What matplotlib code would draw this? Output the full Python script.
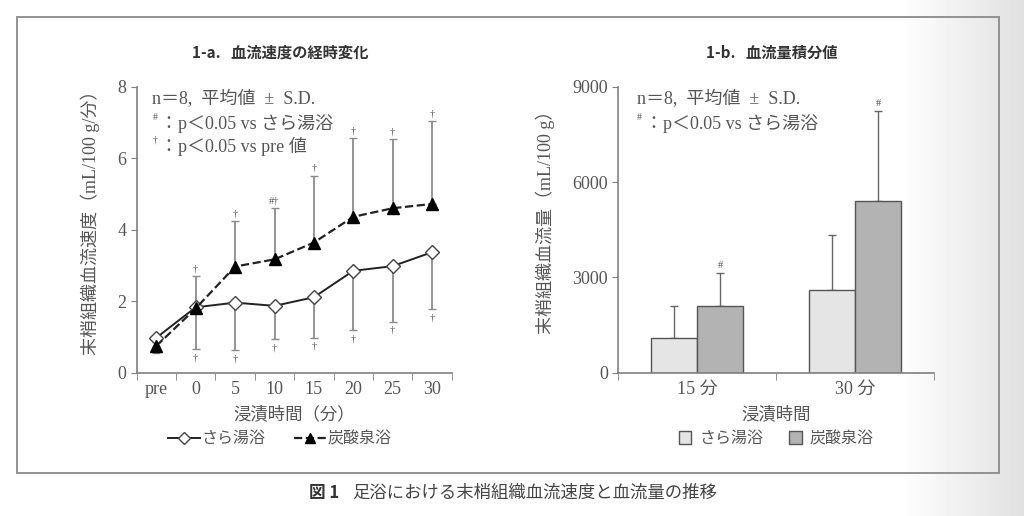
import numpy as np
import matplotlib
matplotlib.use("Agg")
import matplotlib.pyplot as plt
from matplotlib.lines import Line2D
from matplotlib.patches import Patch, Rectangle

# データ
times = ["pre", "0", "5", "10", "15", "20", "25", "30"]
sara_mean = [0.98, 1.83, 1.96, 1.87, 2.11, 2.85, 2.98, 3.37]
sara_sd = [0.44, 1.17, 1.33, 0.94, 1.13, 1.66, 1.55, 1.60]
tansan_mean = [0.75, 1.80, 2.97, 3.17, 3.64, 4.36, 4.60, 4.72]
tansan_sd = [0.10, 0.90, 1.27, 1.43, 1.87, 2.20, 1.93, 2.32]
sara_marks = ["", "†", "†", "†", "†", "†", "†", "†"]
tansan_marks = ["", "†", "†", "#†", "†", "†", "†", "†"]

groups = ["15 分", "30 分"]
sara_sum = [1090, 2615]
sara_sum_sd = [1000, 1720]
tansan_sum = [2090, 5390]
tansan_sum_sd = [1050, 2855]
tansan_sum_marks = ["#", "#"]

SERIF = ["Liberation Serif", "Noto Sans CJK JP"]
SANS = ["Noto Sans CJK JP", "DejaVu Sans"]
plt.rcParams["font.family"] = SERIF
GRAY = "#555555"
SPINE = "#808080"
FS = 13
LFS = 11.5

fig = plt.figure(figsize=(10.24, 5.16), dpi=100)

# 背景のグラデーション
bg = fig.add_axes([0, 0, 1, 1], zorder=-10)
xs = np.arange(1024)
col = np.where(xs < 900, 1.0, 1.0 - (xs - 900) / 124 * 0.12)
bg.imshow(np.tile(col, (10, 1)), cmap="gray", vmin=0, vmax=1, aspect="auto",
          extent=[0, 1, 0, 1])
bg.axis("off")
fig.patches.append(Rectangle((17 / 1024, 1 - 473 / 516), 982 / 1024, 456 / 516,
                             transform=fig.transFigure, fill=False,
                             edgecolor="#8a8a8a", lw=1.3))


def style_axes(ax):
    for s in ["top", "right"]:
        ax.spines[s].set_visible(False)
    for s in ["left", "bottom"]:
        ax.spines[s].set_color(SPINE)
        ax.spines[s].set_linewidth(1.2)
    ax.tick_params(colors=SPINE, labelcolor=GRAY, labelsize=FS, direction="out",
                   length=4)
    ax.set_facecolor("none")


# ---- 1-a ----
ax1 = fig.add_axes([0.1335, 0.2777, 0.3076, 0.5543])
style_axes(ax1)
x = np.arange(len(times))
ax1.errorbar(x, sara_mean, yerr=[sara_sd, [0] * len(x)], fmt="none",
             ecolor="#8c8c8c", elinewidth=1.3, capsize=3, zorder=1)
ax1.errorbar(x, tansan_mean, yerr=[[0] * len(x), tansan_sd], fmt="none",
             ecolor="#8c8c8c", elinewidth=1.3, capsize=3, zorder=1)
ax1.plot(x, sara_mean, "-", color="#222222", lw=1.4, marker="D", ms=7,
         mfc="white", mec="#444444", mew=1, zorder=3)
ax1.plot(x, tansan_mean, "--", color="#222222", lw=1.6, marker="^", ms=8,
         mfc="black", mec="black", zorder=4)
for i in x:
    if tansan_marks[i]:
        ax1.annotate(tansan_marks[i], (i, tansan_mean[i] + tansan_sd[i]),
                     xytext=(0, 2), textcoords="offset points", ha="center",
                     va="bottom", fontsize=7.5, color=GRAY)
    if sara_marks[i]:
        ax1.annotate(sara_marks[i], (i, sara_mean[i] - sara_sd[i]),
                     xytext=(0, -3), textcoords="offset points", ha="center",
                     va="top", fontsize=7.5, color=GRAY)
ax1.set_xlim(-0.5, len(times) - 0.5)
ax1.set_ylim(0, 8)
ax1.set_yticks([0, 2, 4, 6, 8])
ax1.set_xticks(x)
ax1.set_xticklabels(times)
ax1.tick_params(axis="x", length=0, pad=6)
ax1.set_xticks(np.arange(-0.5, len(times)), minor=True)
ax1.tick_params(axis="x", which="minor", length=5, color=SPINE, direction="out")
ax1.set_ylabel("末梢組織血流速度（mL/100 g/分）", family=SERIF, fontsize=13,
               color=GRAY)
ax1.yaxis.set_label_coords(-0.115, 0.54)
ax1.set_xlabel("浸漬時間（分）", family=SERIF, fontsize=12.5, color=GRAY, labelpad=6)
ax1.text(0.05, 0.955, "n＝8,  平均値  ±  S.D.", transform=ax1.transAxes,
         fontsize=FS, color=GRAY, va="center")
ax1.text(0.05, 0.878, "#", transform=ax1.transAxes, fontsize=7, color=GRAY,
         va="bottom")
ax1.text(0.075, 0.87, "：p＜0.05 vs さら湯浴", transform=ax1.transAxes,
         fontsize=FS, color=GRAY, va="center")
ax1.text(0.05, 0.798, "†", transform=ax1.transAxes, fontsize=7, color=GRAY,
         va="bottom")
ax1.text(0.075, 0.79, "：p＜0.05 vs pre 値", transform=ax1.transAxes,
         fontsize=FS, color=GRAY, va="center")
fig.text(0.274, 0.898, "1-a.   血流速度の経時変化", family=SANS, fontweight="bold",
         fontsize=11, color="#333333", ha="center", va="center")
h1 = [Line2D([], [], color="#222222", lw=1.4, marker="D", ms=6, mfc="white",
             mec="#444444"),
      Line2D([], [], color="#222222", lw=1.6, ls="--", marker="^", ms=7,
             mfc="black", mec="black")]
fig.legend(h1, ["さら湯浴", "炭酸泉浴"], loc="center", bbox_to_anchor=(0.273, 0.149),
           ncol=2, frameon=False, handlelength=2.0, handletextpad=0.1,
           columnspacing=1.8, prop={"family": SERIF, "size": LFS},
           labelcolor=GRAY)

# ---- 1-b ----
ax2 = fig.add_axes([0.6038, 0.2777, 0.3083, 0.5543])
style_axes(ax2)
xb = np.arange(len(groups))
w = 0.29
ax2.bar(xb - w / 2, sara_sum, w, color="#e5e5e5", edgecolor="#555555", lw=1,
        zorder=2)
ax2.bar(xb + w / 2, tansan_sum, w, color="#b3b3b3", edgecolor="#555555", lw=1,
        zorder=2)
ax2.errorbar(xb - w / 2, sara_sum, yerr=[[0] * 2, sara_sum_sd], fmt="none",
             ecolor="#666666", elinewidth=1, capsize=3, zorder=1)
ax2.errorbar(xb + w / 2, tansan_sum, yerr=[[0] * 2, tansan_sum_sd], fmt="none",
             ecolor="#666666", elinewidth=1, capsize=3, zorder=1)
for i in xb:
    ax2.annotate(tansan_sum_marks[i], (i + w / 2, tansan_sum[i] + tansan_sum_sd[i]),
                 xytext=(0, 2), textcoords="offset points", ha="center",
                 va="bottom", fontsize=7.5, color=GRAY)
ax2.set_xlim(-0.5, len(groups) - 0.5)
ax2.set_ylim(0, 9000)
ax2.set_yticks([0, 3000, 6000, 9000])
ax2.set_xticks(xb)
ax2.set_xticklabels(groups)
ax2.tick_params(axis="x", length=0, pad=6)
ax2.set_xticks(np.arange(-0.5, len(groups)), minor=True)
ax2.tick_params(axis="x", which="minor", length=5, color=SPINE, direction="out")
ax2.set_ylabel("末梢組織血流量（mL/100 g）", family=SERIF, fontsize=13,
               color=GRAY)
ax2.yaxis.set_label_coords(-0.2, 0.54)
ax2.set_xlabel("浸漬時間", family=SERIF, fontsize=12.5, color=GRAY, labelpad=6)
ax2.text(0.06, 0.955, "n＝8,  平均値  ±  S.D.", transform=ax2.transAxes,
         fontsize=FS, color=GRAY, va="center")
ax2.text(0.06, 0.878, "#", transform=ax2.transAxes, fontsize=7, color=GRAY,
         va="bottom")
ax2.text(0.085, 0.87, "：p＜0.05 vs さら湯浴", transform=ax2.transAxes,
         fontsize=FS, color=GRAY, va="center")
fig.text(0.754, 0.898, "1-b.   血流量積分値", family=SANS, fontweight="bold",
         fontsize=11, color="#333333", ha="center", va="center")
h2 = [Patch(facecolor="#e5e5e5", edgecolor="#555555"),
      Patch(facecolor="#b3b3b3", edgecolor="#555555")]
fig.legend(h2, ["さら湯浴", "炭酸泉浴"], loc="center", bbox_to_anchor=(0.758, 0.149),
           ncol=2, frameon=False, handlelength=0.8, handleheight=0.8,
           handletextpad=0.5, columnspacing=1.6,
           prop={"family": SERIF, "size": LFS}, labelcolor=GRAY)

# キャプション
fig.text(0.302, 0.044, "図 1", family=SANS, fontweight="bold", fontsize=12,
         color="#333333", va="center")
fig.text(0.344, 0.044, "足浴における末梢組織血流速度と血流量の推移", family=SERIF,
         fontsize=12.5, color="#444444", va="center")

fig.savefig("out.png", dpi=100)
